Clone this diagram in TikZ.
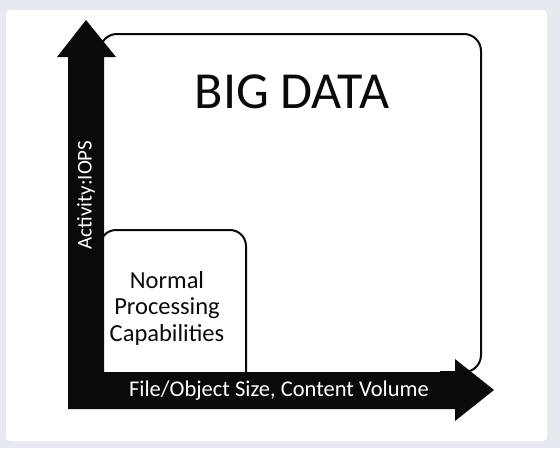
\documentclass[tikz,border=0pt]{standalone}
\usepackage{fontspec}
\setmainfont{Carlito}
\definecolor{bgcol}{HTML}{E6EAF0}
\definecolor{ink}{HTML}{0A0A0A}
\tikzset{
  framebox/.style={draw=ink, line width=2pt},
  axisarrow/.style={fill=ink, draw=none},
  axislabel/.style={text=white, inner sep=0pt, font=\fontsize{22.5}{26}\selectfont},
  ylabelstyle/.style={text=white, inner sep=0pt, font=\fontsize{21}{25}\selectfont},
  bigtext/.style={text=ink, inner sep=0pt, font=\fontsize{52}{60}\selectfont},
  boxtext/.style={text=ink, inner sep=0pt, align=center, font=\fontsize{24.5}{26.5}\selectfont}
}
\begin{document}
\begin{tikzpicture}[x=1pt,y=-1pt]
\useasboundingbox (0,0) rectangle (560,448);
\fill[bgcol] (0,0) rectangle (560,448);
\fill[white, rounded corners=4pt] (6,10) rectangle (547,441);
% frames
\draw[framebox, rounded corners=17pt] (100,372) -- (100,34) -- (481,34) -- (481,372) -- (440,372);
\draw[framebox, rounded corners=16pt] (100,372) -- (100,230) -- (246,230) -- (246,374);
% axes
\fill[axisarrow] (68,409) -- (68,57) -- (57,57) -- (86,20) -- (116,57) -- (104,57)
  -- (104,372) -- (455,372) -- (455,359) -- (494,390) -- (455,421) -- (455,409) -- cycle;
% texts
\node[bigtext] (big) at (292,92) {BIG DATA};
\node[boxtext] (normal) at (167,308) {Normal\\Processing\\Capabilities};
\node[axislabel] (xlab) at (279,391) {File/Object Size, Content Volume};
\node[ylabelstyle, rotate=90] (ylab) at (86,195) {Activity:IOPS};
\end{tikzpicture}
\end{document}
